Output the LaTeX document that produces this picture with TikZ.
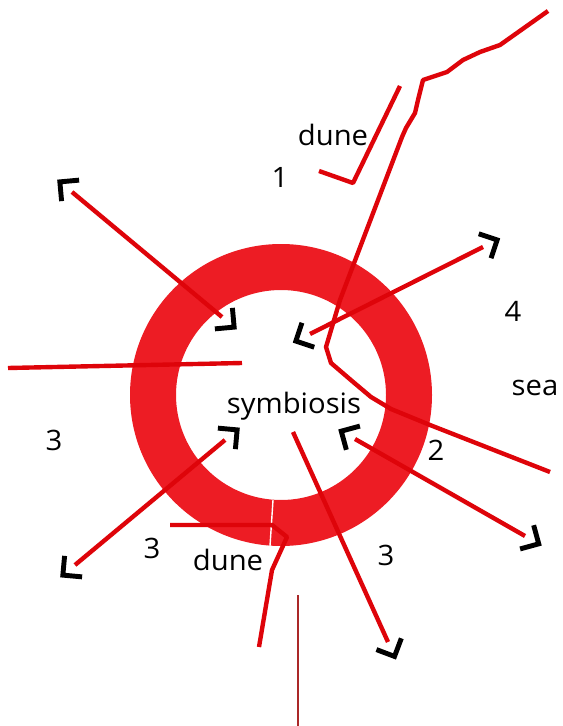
\documentclass[tikz,border=0pt]{standalone}
\usepackage{fontspec}
\setmainfont{Open Sans}[FakeStretch=1.04]
\usetikzlibrary{calc}
\definecolor{ringred}{RGB}{237,28,36}
\definecolor{linered}{RGB}{222,4,10}
\definecolor{thinred}{RGB}{170,40,40}
% open black corner standing off the free end #1 of a line coming from #2
\newcommand\brk[2]{%
  \path ($(#1)!-9pt!(#2)$) coordinate (bc);
  \draw[brkline] ($(bc)!11pt!45:(#1)$) -- (bc) -- ($(bc)!11pt!-45:(#1)$);}
\begin{document}
\begin{tikzpicture}[x=0.02cm,y=-0.02cm,
  redline/.style={draw=linered,line width=2.5pt,line join=round},
  brkline/.style={draw=black,line width=2.8pt},
  lbl/.style={font=\fontsize{16}{19}\selectfont,inner sep=0pt}]
\useasboundingbox (0,0) rectangle (562,726);
% ring
\fill[ringred,even odd rule] (281,395) circle[radius=151] (281,395) circle[radius=105];
\draw[white,line width=0.8pt] (273,500) -- (270,546);
% coast and dunes
\draw[redline] (548,11) -- (500,45) -- (480,52) -- (463,60) -- (447,72) -- (423,80)
  -- (418,100) -- (415,113) -- (406,128) -- (402,137) -- (340,300) -- (326,347)
  -- (331,363) -- (352,381) -- (371,397) -- (391,409) -- (430,425) -- (550,472);
\draw[redline] (319,171) -- (353,183) -- (400,86);
\draw[redline] (170,525) -- (272,525) -- (287,537) -- (272,570) -- (259,647);
\draw[redline] (8,368) -- (242,363);
\draw[draw=thinred,line width=0.9pt] (298,595) -- (298,726);
% arrows
\coordinate (nwout) at (72,192);  \coordinate (nwin) at (222,317);
\coordinate (neout) at (483,247); \coordinate (nein) at (310,334);
\coordinate (swout) at (75,565);  \coordinate (swin) at (225,440);
\coordinate (seout) at (525,536); \coordinate (sein) at (355,439);
\coordinate (sout) at (388,642);  \coordinate (sin) at (293,432);
\draw[redline] (nwout) -- (nwin);
\brk{nwout}{nwin} \brk{nwin}{nwout}
\draw[redline] (neout) -- (nein);
\brk{neout}{nein} \brk{nein}{neout}
\draw[redline] (swout) -- (swin);
\brk{swout}{swin} \brk{swin}{swout}
\draw[redline] (seout) -- (sein);
\brk{seout}{sein} \brk{sein}{seout}
\draw[redline] (sin) -- (sout);
\brk{sout}{sin}
% labels
\node[lbl] (duneN) at (333,135) {dune};
\node[lbl] (one) at (280,177) {1};
\node[lbl] (four) at (513,311) {4};
\node[lbl] (sea) at (535,388) {sea};
\node[lbl] (sym) at (294,406) {symbiosis};
\node[lbl] (threeW) at (54,440) {3};
\node[lbl] (two) at (436,450) {2};
\node[lbl] (threeSW) at (152,548) {3};
\node[lbl] (duneS) at (228,560) {dune};
\node[lbl] (threeS) at (386,555) {3};
\end{tikzpicture}
\end{document}
